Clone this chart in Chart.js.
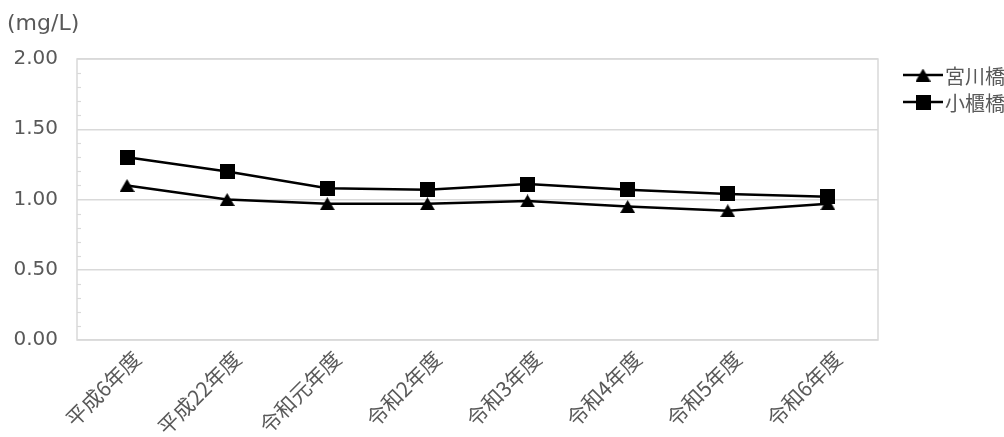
<!DOCTYPE html>
<html>
<head>
<meta charset="utf-8">
<script src="https://cdn.jsdelivr.net/npm/chart.js@4/dist/chart.umd.min.js"></script>
<style>
  html, body { margin: 0; padding: 0; background: #fff; }
  #wrap { width: 1004px; height: 437px; position: relative; }
</style>
</head>
<body>
<div id="wrap"><canvas id="c" width="1004" height="437"></canvas></div>
<script>
// Fiscal years on the category axis
const years = ['平成6年度', '平成22年度', '令和元年度', '令和2年度', '令和3年度', '令和4年度', '令和5年度', '令和6年度'];
// Concentration at each monitoring point (mg/L)
const miyagawaBashi = [1.10, 1.00, 0.97, 0.97, 0.99, 0.95, 0.92, 0.97];
const obitsuBashi = [1.30, 1.20, 1.08, 1.07, 1.11, 1.07, 1.04, 1.02];
const seriesNames = ['宮川橋', '小櫃橋'];
const unitLabel = '(mg/L)';
const yMin = 0, yMax = 2, yStep = 0.5, yMinorStep = 0.1;

const FONT = '"Noto Sans CJK JP", "Noto Sans", sans-serif';
const NUM_FONT = '"DejaVu Sans", "Noto Sans", sans-serif';
const TEXT = '#595959';
const GRID = '#d9d9d9';

// Marker images: centred on their bounding box
function triangleMarker(w, h) {
  const c = document.createElement('canvas');
  c.width = w; c.height = h;
  const g = c.getContext('2d');
  g.fillStyle = '#000';
  g.beginPath();
  g.moveTo(w / 2, 0);
  g.lineTo(w, h);
  g.lineTo(0, h);
  g.closePath();
  g.fill();
  return c;
}
function squareMarker(s) {
  const c = document.createElement('canvas');
  c.width = s; c.height = s;
  const g = c.getContext('2d');
  g.fillStyle = '#000';
  g.fillRect(0, 0, s, s);
  return c;
}
const triImg = triangleMarker(15, 13);
const sqImg = squareMarker(15);

// Plot frame, minor ticks on the value axis and the unit label
const framePlugin = {
  id: 'frame',
  beforeDatasetsDraw(chart) {
    const { ctx, chartArea: a, scales: { y } } = chart;
    ctx.save();
    ctx.strokeStyle = GRID;
    ctx.lineWidth = 1.5;
    ctx.strokeRect(a.left, a.top, a.right - a.left, a.bottom - a.top);
    ctx.lineWidth = 1.2;
    for (let v = yMin + yMinorStep; v < yMax - 1e-9; v += yMinorStep) {
      if (Math.abs(v / yStep - Math.round(v / yStep)) < 1e-6) continue;
      const py = Math.round(y.getPixelForValue(v)) + 0.5;
      ctx.beginPath();
      ctx.moveTo(a.left, py);
      ctx.lineTo(a.left + 4, py);
      ctx.stroke();
    }
    ctx.restore();
  },
  afterDraw(chart) {
    const { ctx } = chart;
    ctx.save();
    ctx.fillStyle = TEXT;
    ctx.font = '22px ' + NUM_FONT;
    ctx.textAlign = 'left';
    ctx.textBaseline = 'middle';
    ctx.fillText(unitLabel, 7, 24);
    ctx.restore();
  }
};

// Legend with line-and-marker samples at the right
const legendPlugin = {
  id: 'sideLegend',
  afterDraw(chart) {
    const { ctx } = chart;
    ctx.save();
    chart.data.datasets.forEach((ds, i) => {
      const yy = 75 + i * 27;
      ctx.strokeStyle = ds.borderColor;
      ctx.lineWidth = ds.borderWidth;
      ctx.beginPath();
      ctx.moveTo(903, yy);
      ctx.lineTo(943, yy);
      ctx.stroke();
      const img = ds.pointStyle;
      ctx.drawImage(img, 923 - img.width / 2, yy - img.height / 2);
      ctx.fillStyle = TEXT;
      ctx.font = '20px ' + FONT;
      ctx.textAlign = 'left';
      ctx.textBaseline = 'middle';
      ctx.fillText(ds.label, 945, yy + 1);
    });
    ctx.restore();
  }
};

new Chart(document.getElementById('c'), {
  type: 'line',
  data: {
    labels: years,
    datasets: [
      {
        label: seriesNames[0],
        data: miyagawaBashi,
        borderColor: '#000',
        backgroundColor: '#000',
        borderWidth: 2.5,
        pointStyle: triImg,
        order: 1
      },
      {
        label: seriesNames[1],
        data: obitsuBashi,
        borderColor: '#000',
        backgroundColor: '#000',
        borderWidth: 2.5,
        pointStyle: sqImg,
        order: 0
      }
    ]
  },
  options: {
    responsive: false,
    animation: false,
    layout: { padding: { left: 0, right: 126, top: 59, bottom: 0 } },
    plugins: {
      legend: { display: false },
      tooltip: { enabled: false }
    },
    elements: { line: { tension: 0 } },
    scales: {
      x: {
        offset: true,
        grid: { display: false, drawTicks: false },
        border: { display: false },
        ticks: {
          color: TEXT,
          font: { family: FONT, size: 21 },
          maxRotation: 45,
          minRotation: 45,
          padding: 6,
          labelOffset: 10,
          autoSkip: false
        },
        afterFit(scale) { scale.height = 97; }
      },
      y: {
        min: yMin,
        max: yMax,
        grid: { color: GRID, lineWidth: 1.5, drawTicks: false },
        border: { display: false },
        ticks: {
          stepSize: yStep,
          color: TEXT,
          font: { family: NUM_FONT, size: 20 },
          padding: 19,
          callback: v => v.toFixed(2)
        },
        afterFit(scale) { scale.width = 77; }
      }
    }
  },
  plugins: [framePlugin, legendPlugin]
});
</script>
</body>
</html>
